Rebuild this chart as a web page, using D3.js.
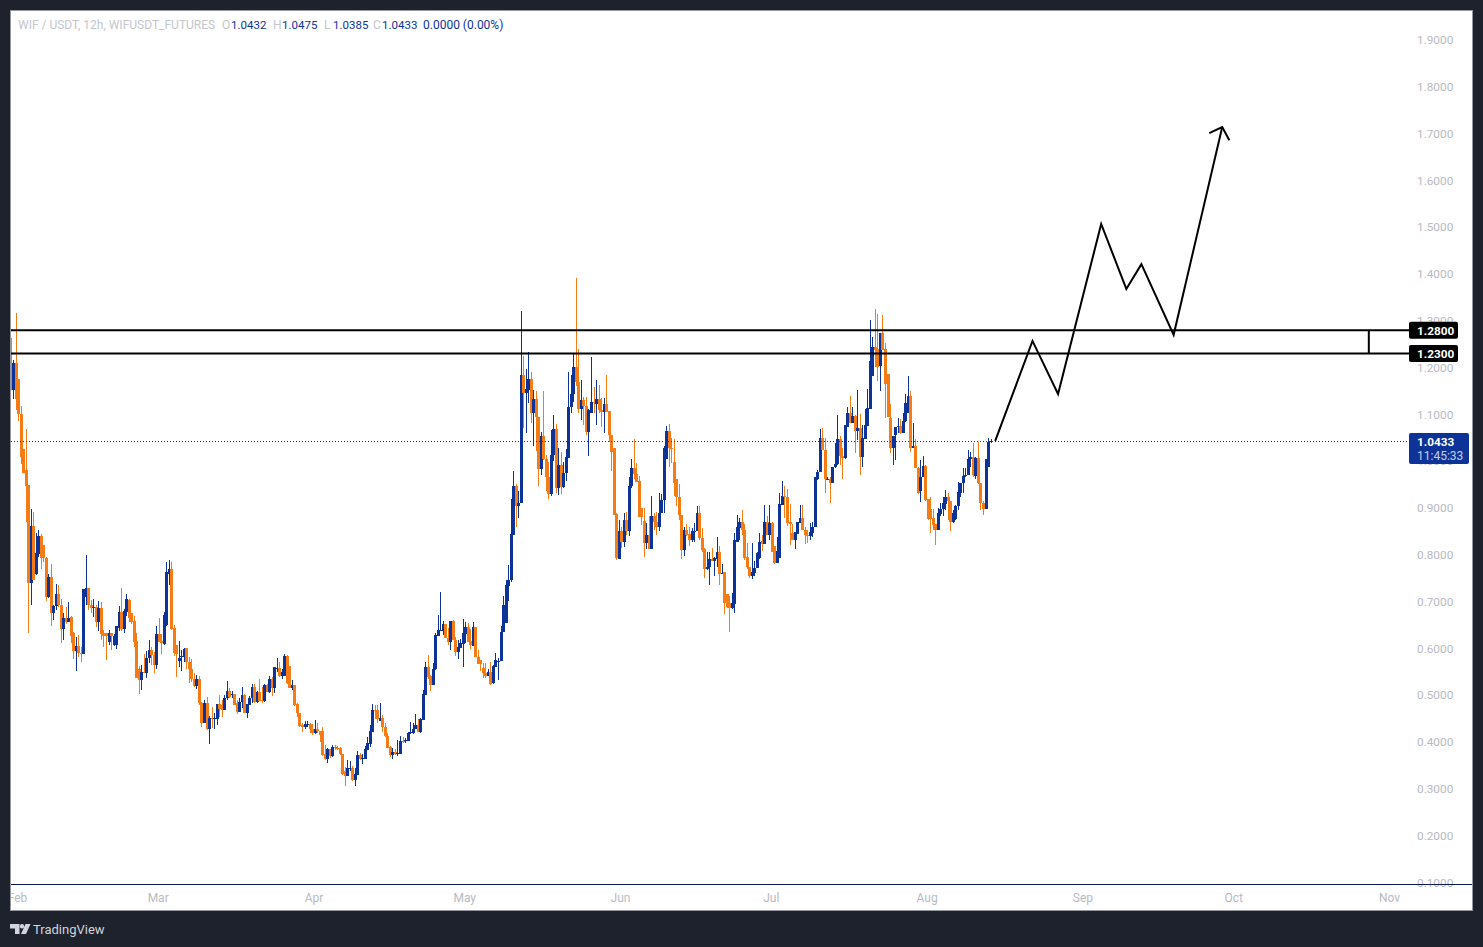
<!DOCTYPE html>
<html>
<head>
<meta charset="utf-8">
<title>WIF / USDT</title>
<script src="https://d3js.org/d3.v7.min.js"></script>
<style>
  body { margin: 0; background: #1e222d; overflow: hidden; }
  svg { display: block; }
  text { font-family: Roboto, sans-serif; }
</style>
</head>
<body>
<svg id="chart"></svg>
<script>
// 12h candles
let firstBar = Date.UTC(2025, 0, 30, 12)
let barMs = 12 * 3600 * 1000

let opens = [
  1.205,1.153,1.209,1.175,1.100,1.027,0.981,0.949,0.740,0.861,0.760,0.801,0.840,0.820,0.794,0.710,0.753,0.676,0.690,0.717,
  0.692,0.642,0.666,0.657,0.668,0.632,0.595,0.605,0.591,0.588,0.710,0.728,0.693,0.687,0.688,0.656,0.686,0.632,0.632,0.613,
  0.632,0.607,0.607,0.644,0.678,0.641,0.678,0.703,0.676,0.658,0.616,0.555,0.532,0.549,0.547,0.579,0.596,0.586,0.564,0.631,
  0.616,0.609,0.650,0.760,0.769,0.643,0.608,0.573,
  0.581,0.582,0.600,0.570,0.557,0.534,0.520,0.534,0.484,0.441,
  0.483,0.428,0.451,0.449,0.449,0.481,0.479,0.468,0.493,0.509,
  0.501,0.503,0.484,0.464,0.485,0.500,0.463,0.480,0.493,0.517,
  0.486,0.507,0.490,0.487,0.522,0.507,0.535,0.515,0.557,0.558,
  0.540,0.540,0.584,0.562,0.516,0.522,0.481,0.463,0.436,0.433,
  0.438,0.439,0.427,0.420,0.428,0.424,0.424,0.374,0.364,0.386,
  0.370,0.389,0.388,0.387,0.374,0.337,0.328,
  0.342,0.344,0.319,0.330,0.372,0.364,0.364,0.383,0.396,0.421,
  0.468,0.468,0.444,0.451,0.431,0.413,0.390,0.373,0.379,0.376,
  0.375,0.402,0.402,0.402,0.420,0.420,0.428,0.436,0.422,0.447,
  0.501,0.560,0.542,0.522,0.555,0.627,0.638,0.638,0.652,0.623,
  0.614,0.659,0.619,0.593,0.600,0.609,0.631,0.645,0.616,0.605,
  0.645,0.582,0.575,0.559,0.548,0.540,0.549,0.527,0.561,0.573,
  0.573,0.635,0.655,0.734,
  0.746,0.842,0.947,0.904,0.910,1.184,1.146,1.152,1.176,1.104,
  1.133,1.095,0.983,1.054,1.005,0.967,0.930,1.013,1.069,0.942,
  0.992,0.944,0.974,1.006,1.115,1.144,1.201,1.170,1.112,1.131,
  1.118,1.063,1.104,1.126,1.122,1.132,1.110,1.106,1.122,1.107,
  1.056,1.028,0.887,0.791,0.851,0.828,0.874,0.850,0.947,0.985,
  0.973,0.958,0.899,0.873,0.826,0.842,0.813,0.883,0.871,0.860,
  0.889,0.917,1.005,1.065,1.028,0.998,0.961,0.924,
  0.885,0.810,0.853,0.844,0.832,0.849,0.850,0.889,0.835,0.812,
  0.769,0.775,0.790,0.787,0.791,0.806,0.760,0.763,0.716,0.696,
  0.687,0.695,0.828,0.857,0.870,0.853,0.795,0.775,0.755,0.762,
  0.772,0.793,0.830,0.823,0.870,0.842,0.867,0.819,0.783,0.794,
  0.907,0.926,0.923,0.871,0.847,0.832,0.844,0.867,0.879,0.854,
  0.842,0.841,0.847,0.859,0.961,0.976,1.049,1.025,0.960,0.961,
  0.953,0.988,
  0.995,1.047,1.011,1.006,1.074,1.102,1.082,1.096,1.065,1.070,
  1.010,1.048,1.075,1.112,1.181,1.243,1.239,1.203,1.275,1.239,
  1.186,1.093,1.029,1.056,1.073,1.075,1.061,1.085,1.104,1.139,
  1.028,1.033,0.985,0.937,0.967,0.990,0.919,0.897,0.878,0.866,
  0.852,0.888,0.897,0.909,0.924,0.915,0.871,0.876,0.904,0.933,
  0.954,0.968,0.970,1.004,1.008,0.968,1.006,0.953,0.910,0.898,
  0.988,1.0432
]

let highs = [
  1.264,1.216,1.316,1.175,1.118,1.027,1.068,0.949,0.898,0.891,0.847,0.853,0.844,0.820,0.796,0.759,0.781,0.692,0.737,0.735,
  0.705,0.676,0.688,0.699,0.669,0.636,0.625,0.628,0.603,0.727,0.799,0.728,0.703,0.705,0.693,0.701,0.700,0.639,0.632,0.639,
  0.633,0.630,0.648,0.690,0.728,0.685,0.717,0.705,0.676,0.669,0.632,0.562,0.564,0.588,0.595,0.619,0.603,0.593,0.648,0.664,
  0.631,0.678,0.785,0.789,0.785,0.650,0.608,0.616,
  0.597,0.600,0.600,0.582,0.577,0.547,0.543,0.541,0.486,0.490,
  0.496,0.456,0.474,0.461,0.481,0.500,0.490,0.501,0.530,0.515,
  0.508,0.503,0.490,0.493,0.517,0.503,0.481,0.498,0.524,0.525,
  0.510,0.535,0.517,0.525,0.524,0.540,0.538,0.561,0.580,0.572,
  0.556,0.589,0.586,0.562,0.533,0.522,0.483,0.463,0.441,0.444,
  0.444,0.440,0.439,0.447,0.440,0.424,0.431,0.394,0.387,0.386,
  0.394,0.394,0.391,0.389,0.374,0.347,0.362,
  0.360,0.349,0.344,0.381,0.377,0.375,0.392,0.410,0.436,0.481,
  0.479,0.479,0.484,0.458,0.440,0.419,0.392,0.387,0.385,0.404,
  0.413,0.410,0.408,0.422,0.442,0.440,0.459,0.449,0.451,0.511,
  0.570,0.586,0.543,0.568,0.632,0.671,0.720,0.659,0.652,0.643,
  0.658,0.661,0.625,0.619,0.621,0.663,0.657,0.654,0.641,0.656,
  0.645,0.597,0.575,0.568,0.568,0.557,0.570,0.565,0.590,0.579,
  0.648,0.711,0.746,0.778,
  0.919,0.979,0.951,0.936,1.321,1.225,1.197,1.233,1.190,1.152,
  1.149,1.095,1.062,1.149,1.013,0.999,1.067,1.099,1.080,1.029,
  1.020,0.998,1.026,1.191,1.184,1.230,1.391,1.240,1.174,1.138,
  1.138,1.111,1.222,1.158,1.174,1.163,1.134,1.134,1.184,1.107,
  1.056,1.028,0.889,0.874,0.860,0.890,0.892,0.967,1.004,1.047,
  0.996,0.968,0.899,0.899,0.867,0.883,0.926,0.890,0.892,0.931,
  0.930,1.033,1.075,1.080,1.049,1.047,0.961,0.951,
  0.885,0.859,0.866,0.860,0.857,0.869,0.904,0.904,0.857,0.814,
  0.807,0.805,0.814,0.796,0.838,0.819,0.780,0.764,0.716,0.711,
  0.718,0.847,0.885,0.878,0.896,0.866,0.826,0.775,0.826,0.787,
  0.805,0.847,0.842,0.906,0.883,0.906,0.871,0.819,0.839,0.933,
  0.958,0.948,0.941,0.909,0.866,0.849,0.870,0.906,0.906,0.860,
  0.853,0.869,0.871,0.967,0.981,1.069,1.072,1.049,0.967,0.967,
  0.988,1.038,
  1.099,1.054,1.028,1.077,1.115,1.139,1.115,1.099,1.152,1.101,
  1.077,1.111,1.154,1.302,1.266,1.325,1.315,1.275,1.312,1.253,
  1.186,1.122,1.054,1.074,1.092,1.090,1.102,1.143,1.181,1.151,
  1.081,1.047,0.988,1.003,1.011,0.992,0.919,0.924,0.897,0.866,
  0.899,0.911,0.924,0.939,0.933,0.915,0.896,0.906,0.956,0.954,
  0.985,0.985,1.024,1.020,1.038,1.010,1.040,0.953,0.914,1.004,
  1.049,1.0475
]

let lows = [
  1.153,1.133,1.110,1.086,0.995,0.974,0.871,0.633,0.693,0.746,0.757,0.796,0.770,0.784,0.701,0.707,0.648,0.660,0.682,0.689,
  0.612,0.618,0.652,0.657,0.612,0.578,0.552,0.582,0.571,0.588,0.693,0.682,0.676,0.668,0.646,0.638,0.619,0.603,0.575,0.607,
  0.596,0.605,0.599,0.638,0.638,0.633,0.669,0.657,0.652,0.603,0.536,0.502,0.511,0.547,0.537,0.568,0.564,0.548,0.557,0.614,
  0.589,0.607,0.648,0.735,0.639,0.584,0.538,0.561,
  0.552,0.572,0.557,0.527,0.529,0.518,0.513,0.478,0.431,0.441,
  0.426,0.396,0.429,0.428,0.436,0.454,0.454,0.468,0.490,0.493,
  0.493,0.478,0.460,0.464,0.473,0.461,0.452,0.480,0.483,0.483,
  0.483,0.487,0.484,0.485,0.506,0.505,0.499,0.505,0.550,0.538,
  0.535,0.540,0.525,0.515,0.511,0.477,0.454,0.431,0.422,0.428,
  0.431,0.420,0.416,0.417,0.419,0.401,0.370,0.362,0.356,0.365,
  0.369,0.383,0.383,0.372,0.330,0.306,0.328,
  0.337,0.317,0.307,0.330,0.362,0.353,0.364,0.383,0.390,0.421,
  0.449,0.440,0.444,0.422,0.410,0.387,0.369,0.364,0.372,0.371,
  0.375,0.397,0.397,0.402,0.417,0.417,0.428,0.422,0.420,0.447,
  0.501,0.534,0.510,0.522,0.554,0.627,0.638,0.629,0.622,0.607,
  0.597,0.618,0.584,0.577,0.600,0.561,0.611,0.613,0.598,0.605,
  0.581,0.566,0.552,0.536,0.536,0.540,0.522,0.525,0.561,0.533,
  0.573,0.635,0.655,0.702,
  0.742,0.842,0.860,0.878,0.910,1.072,1.060,1.124,1.082,1.033,
  1.022,0.947,0.971,1.003,0.937,0.919,0.926,1.000,0.931,0.928,
  0.930,0.942,0.958,1.006,1.104,1.127,1.161,1.104,1.088,1.077,
  1.056,1.012,1.102,1.102,1.077,1.104,1.074,1.060,1.106,1.042,
  0.978,0.884,0.788,0.790,0.814,0.816,0.842,0.840,0.942,0.961,
  0.955,0.880,0.864,0.796,0.812,0.813,0.813,0.853,0.842,0.850,
  0.889,0.890,1.005,0.988,0.996,0.926,0.904,0.874,
  0.791,0.798,0.841,0.819,0.827,0.827,0.850,0.832,0.807,0.751,
  0.768,0.736,0.787,0.755,0.775,0.736,0.760,0.674,0.686,0.636,
  0.684,0.676,0.828,0.832,0.842,0.789,0.769,0.750,0.748,0.755,
  0.771,0.791,0.809,0.823,0.842,0.832,0.805,0.780,0.782,0.793,
  0.907,0.879,0.862,0.821,0.832,0.812,0.844,0.867,0.853,0.823,
  0.826,0.832,0.839,0.859,0.960,0.976,1.024,0.933,0.960,0.910,
  0.953,0.985,
  0.992,0.992,0.962,1.004,1.074,1.081,1.081,1.018,1.045,0.971,
  0.987,1.048,1.075,1.112,1.181,1.202,1.172,1.151,1.238,1.093,
  1.094,1.018,0.992,1.003,1.060,1.058,1.061,1.083,1.102,1.020,
  1.028,0.985,0.930,0.912,0.967,0.916,0.874,0.846,0.853,0.820,
  0.852,0.882,0.882,0.896,0.874,0.850,0.869,0.874,0.896,0.924,
  0.931,0.967,0.970,0.988,0.967,0.963,0.951,0.896,0.885,0.898,
  0.988,1.0385
]

let closes = [
  1.153,1.209,1.133,1.100,1.008,0.974,0.947,0.739,0.861,0.746,0.803,0.840,0.794,0.794,0.710,0.753,0.676,0.690,0.717,0.692,
  0.641,0.666,0.656,0.666,0.627,0.595,0.605,0.591,0.590,0.727,0.728,0.693,0.687,0.688,0.657,0.686,0.630,0.627,0.626,0.632,
  0.626,0.626,0.648,0.678,0.642,0.679,0.705,0.665,0.657,0.614,0.536,0.532,0.550,0.547,0.579,0.596,0.586,0.565,0.631,0.614,
  0.611,0.671,0.764,0.769,0.641,0.591,0.589,0.580,
  0.583,0.599,0.570,0.556,0.534,0.520,0.534,0.484,0.441,0.483,
  0.428,0.451,0.449,0.451,0.481,0.470,0.468,0.493,0.509,0.496,
  0.503,0.478,0.464,0.486,0.500,0.463,0.481,0.493,0.517,0.485,
  0.507,0.487,0.487,0.522,0.507,0.535,0.515,0.560,0.558,0.540,
  0.549,0.584,0.527,0.516,0.522,0.478,0.461,0.434,0.433,0.438,
  0.439,0.427,0.420,0.428,0.424,0.414,0.372,0.364,0.386,0.370,
  0.389,0.387,0.386,0.374,0.331,0.328,0.344,
  0.344,0.318,0.331,0.372,0.364,0.365,0.384,0.397,0.424,0.468,
  0.467,0.449,0.451,0.431,0.412,0.388,0.372,0.379,0.375,0.377,
  0.402,0.400,0.404,0.420,0.421,0.428,0.436,0.422,0.449,0.502,
  0.560,0.538,0.522,0.555,0.629,0.639,0.639,0.652,0.623,0.614,
  0.658,0.618,0.593,0.602,0.611,0.632,0.646,0.614,0.607,0.645,
  0.582,0.567,0.567,0.548,0.540,0.549,0.525,0.562,0.575,0.574,
  0.636,0.693,0.735,0.746,
  0.844,0.947,0.904,0.910,1.184,1.146,1.154,1.176,1.104,1.133,
  1.095,0.983,1.054,1.004,0.966,0.930,1.013,1.069,0.942,0.992,
  0.944,0.974,1.008,1.115,1.144,1.201,1.170,1.112,1.131,1.117,
  1.063,1.109,1.126,1.124,1.132,1.110,1.106,1.122,1.106,1.056,
  1.020,0.885,0.793,0.851,0.828,0.874,0.850,0.947,0.985,0.973,
  0.956,0.880,0.880,0.826,0.842,0.813,0.883,0.871,0.860,0.889,
  0.917,1.028,1.065,1.028,1.026,0.954,0.924,0.884,
  0.810,0.853,0.842,0.832,0.851,0.851,0.889,0.835,0.810,0.769,
  0.775,0.790,0.787,0.793,0.806,0.760,0.762,0.698,0.688,0.687,
  0.698,0.832,0.859,0.870,0.852,0.794,0.773,0.755,0.763,0.771,
  0.803,0.828,0.823,0.870,0.842,0.869,0.807,0.782,0.808,0.909,
  0.926,0.923,0.867,0.865,0.832,0.849,0.870,0.879,0.853,0.842,
  0.841,0.848,0.859,0.966,0.977,1.049,1.024,0.961,0.961,0.954,
  0.988,0.995,
  1.047,1.011,1.006,1.077,1.102,1.082,1.096,1.065,1.070,1.010,
  1.049,1.077,1.114,1.214,1.243,1.238,1.202,1.275,1.238,1.164,
  1.094,1.028,1.054,1.074,1.075,1.060,1.085,1.124,1.139,1.028,
  1.033,0.985,0.931,0.967,0.990,0.917,0.876,0.876,0.864,0.852,
  0.889,0.897,0.910,0.924,0.914,0.871,0.889,0.904,0.935,0.954,
  0.968,0.970,1.004,1.008,0.970,1.006,0.953,0.910,0.898,1.004,
  1.041,1.0433
]

let priceTicks = [0.1,0.2,0.3,0.4,0.5,0.6,0.7,0.8,0.9,1.0,1.1,1.2,1.3,1.4,1.5,1.6,1.7,1.8,1.9]
let monthTicks = [[2025,1],[2025,2],[2025,3],[2025,4],[2025,5],[2025,6],[2025,7],[2025,8],[2025,9],[2025,10]]

let zoneLevels = [1.28, 1.23]
let lastPrice = 1.0433
let countdown = '11:45:33'
let zoneMarkDate = Date.UTC(2025, 9, 27, 16)

// hand drawn projection
let pathDates = [[7,14,8],[7,21,18],[7,26,20],[8,4,10],[8,9,10],[8,12,10],[8,18,20],[8,28,12]]
let pathPrices = [1.0433,1.257,1.1436,1.507,1.368,1.421,1.27,1.714]
let arrowDates = [[8,25,22],[8,28,12],[8,29,22]]
let arrowPrices = [1.701,1.714,1.686]

let title = 'WIF / USDT, 12h, WIFUSDT_FUTURES'
let legendLetters = ['O','H','L','C']
let legendValues = ['1.0432','1.0475','1.0385','1.0433']
let legendChange = '0.0000 (0.00%)'

let width = 1483
let height = 947
let blue = '#0d3399'
let orange = '#f57c14'
let grey = '#b8bac2'

let svg = d3.select('#chart').attr('width', width).attr('height', height)

let xScale = d3.scaleUtc()
               .domain([new Date(firstBar), new Date(Date.UTC(2025, 10, 1))])
               .range([11, 1390.6])
let yScale = d3.scaleLinear().domain([0.1, 1.9]).range([882.4, 40])

let toDate = (d) => new Date(Date.UTC(2025, d[0], d[1], d[2]))

// chart panel
svg.append('rect').attr('width', width).attr('height', height).attr('fill', '#1e222d')
svg.append('rect').attr('x', 10.5).attr('y', 10.5).attr('width', 1462).attr('height', 900)
   .attr('fill', '#fff').attr('stroke', '#9598a1')

svg.append('clipPath').attr('id', 'panel')
   .append('rect').attr('x', 11).attr('y', 11).attr('width', 1461).attr('height', 899)

let drawAxes = () => {
  let yAxis = d3.axisRight(yScale)
                .tickValues(priceTicks)
                .tickFormat(d3.format('.4f'))
                .tickSize(0)
                .tickPadding(0)
  let gy = svg.append('g').attr('transform', 'translate(1417,0)').call(yAxis)
  gy.select('.domain').remove()
  gy.selectAll('text').attr('fill', grey).attr('font-size', 11.8).attr('font-family', 'Roboto, sans-serif')

  svg.append('line').attr('x1', 11).attr('x2', 1472).attr('y1', 884.5).attr('y2', 884.5)
     .attr('stroke', '#0b1a5c')

  let xAxis = d3.axisBottom(xScale)
                .tickValues(monthTicks.map((m) => new Date(Date.UTC(m[0], m[1], 1))))
                .tickFormat(d3.utcFormat('%b'))
                .tickSize(0)
                .tickPadding(8)
  let gx = svg.append('g').attr('clip-path', 'url(#panel)')
              .append('g').attr('transform', 'translate(-1.6,885)').call(xAxis)
  gx.select('.domain').remove()
  gx.selectAll('text').attr('fill', grey).attr('font-size', 12).attr('font-family', 'Roboto, sans-serif')
}

let drawCandles = () => {
  let bars = d3.range(opens.length).map((i) => {
    return { date: new Date(firstBar + i * barMs), o: opens[i], h: highs[i], l: lows[i], c: closes[i] }
  })
  let colour = (d) => d.c >= d.o ? blue : orange
  let snap = (d) => Math.floor(xScale(d.date))

  let g = svg.append('g').attr('clip-path', 'url(#panel)').attr('shape-rendering', 'crispEdges')

  // one group per bar so that bars stack left to right
  let bar = g.selectAll('g.bar').data(bars).enter().append('g').attr('class', 'bar').attr('fill', colour)

  bar.append('rect')
     .attr('x', snap)
     .attr('width', 1)
     .attr('y', (d) => yScale(d.h))
     .attr('height', (d) => yScale(d.l) - yScale(d.h))

  bar.append('rect')
     .attr('x', (d) => snap(d) - 1)
     .attr('width', 3)
     .attr('y', (d) => yScale(Math.max(d.o, d.c)))
     .attr('height', (d) => Math.max(1, Math.abs(yScale(d.o) - yScale(d.c))))
}

let drawLevels = () => {
  svg.append('line')
     .attr('x1', 11).attr('x2', 1409)
     .attr('y1', Math.round(yScale(lastPrice)) + 0.5).attr('y2', Math.round(yScale(lastPrice)) + 0.5)
     .attr('stroke', blue).attr('stroke-dasharray', '1 2')

  svg.selectAll('line.zone')
     .data(zoneLevels)
     .enter()
     .append('line')
     .attr('class', 'zone')
     .attr('x1', 11).attr('x2', 1409)
     .attr('y1', (d) => yScale(d)).attr('y2', (d) => yScale(d))
     .attr('stroke', '#000').attr('stroke-width', 2)

  svg.append('line')
     .attr('x1', xScale(new Date(zoneMarkDate))).attr('x2', xScale(new Date(zoneMarkDate)))
     .attr('y1', yScale(zoneLevels[0])).attr('y2', yScale(zoneLevels[1]))
     .attr('stroke', '#000').attr('stroke-width', 2)

  let line = d3.line().x((d) => xScale(d[0])).y((d) => yScale(d[1]))
  let pts = pathDates.map((d, i) => [toDate(d), pathPrices[i]])
  let arrow = arrowDates.map((d, i) => [toDate(d), arrowPrices[i]])
  svg.append('path').attr('d', line(pts)).attr('fill', 'none').attr('stroke', '#000').attr('stroke-width', 2)
  svg.append('path').attr('d', line(arrow)).attr('fill', 'none').attr('stroke', '#000').attr('stroke-width', 2)

  // price tags on the right
  zoneLevels.forEach((p) => {
    svg.append('rect').attr('x', 1409).attr('y', yScale(p) - 8.5).attr('width', 49).attr('height', 17)
       .attr('rx', 2).attr('fill', '#000')
    svg.append('text').attr('x', 1417).attr('y', yScale(p) + 4.5).text(d3.format('.4f')(p))
       .attr('fill', '#fff').attr('font-size', 11.8).attr('font-weight', 700)
  })
  svg.append('rect').attr('x', 1409).attr('y', yScale(lastPrice) - 8).attr('width', 60).attr('height', 31)
     .attr('rx', 2).attr('fill', blue)
  svg.append('text').attr('x', 1417).attr('y', yScale(lastPrice) + 5).text(d3.format('.4f')(lastPrice))
     .attr('fill', '#fff').attr('font-size', 11.8).attr('font-weight', 700)
  svg.append('text').attr('x', 1417).attr('y', yScale(lastPrice) + 19).text(countdown)
     .attr('fill', '#c5cde6').attr('font-size', 12)
}

let drawLegend = () => {
  let y = 28.5
  svg.append('text').attr('x', 18).attr('y', y).text(title).attr('fill', '#c4c6cc').attr('font-size', 12)
  let letterX = [222, 273, 324, 373]
  legendLetters.forEach((l, i) => {
    svg.append('text').attr('x', letterX[i]).attr('y', y).text(l).attr('fill', '#c4c6cc').attr('font-size', 12)
    svg.append('text').attr('x', letterX[i] + 9).attr('y', y).text(legendValues[i]).attr('fill', blue).attr('font-size', 11.5)
  })
  svg.append('text').attr('x', 423).attr('y', y).text(legendChange).attr('fill', blue).attr('font-size', 12)
}

let drawFooter = () => {
  let logo = svg.append('g').attr('fill', '#d1d4dc')
  logo.append('path').attr('d', 'M10 924h9.5v10h-4.5v-5.5h-5z')
  logo.append('circle').attr('cx', 22).attr('cy', 926.2).attr('r', 2.2)
  logo.append('path').attr('d', 'M25.5 924h5l-4.5 10h-5z')
  svg.append('text').attr('x', 33).attr('y', 934).text('TradingView')
     .attr('fill', '#d1d4dc').attr('font-size', 13)
}

drawAxes()
drawCandles()
drawLevels()
drawLegend()
drawFooter()
</script>
</body>
</html>
